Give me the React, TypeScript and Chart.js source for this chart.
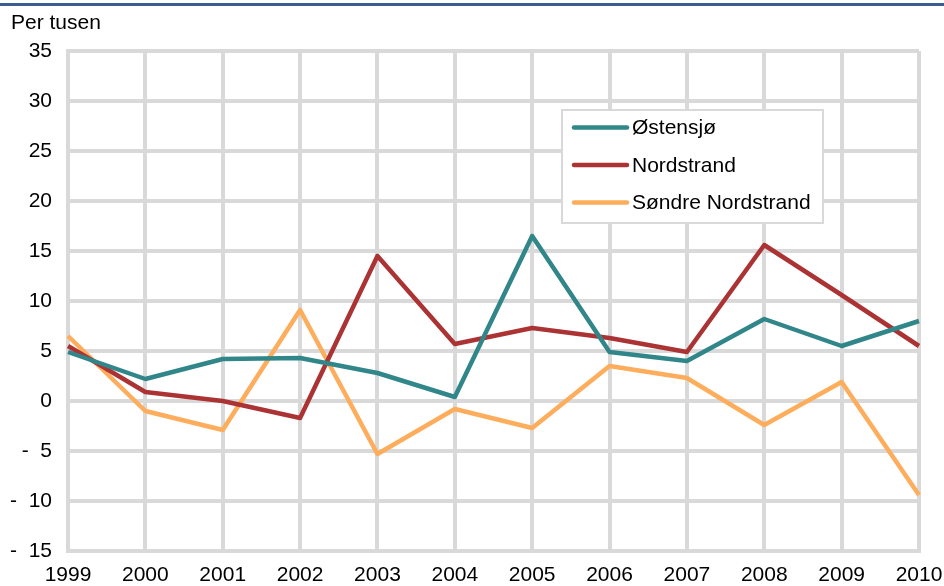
import React, { useEffect, useRef } from "react";
import { Chart, registerables } from "chart.js";

Chart.register(...registerables);

const years = ["1999", "2000", "2001", "2002", "2003", "2004", "2005", "2006", "2007", "2008", "2009", "2010"];
const ostensjo = [4.9, 2.2, 4.2, 4.3, 2.8, 0.4, 16.5, 4.9, 4.0, 8.2, 5.5, 8.0];
const nordstrand = [5.5, 0.9, 0.0, -1.7, 14.5, 5.7, 7.3, 6.3, 4.9, 15.6, 10.6, 5.5];
const sondreNordstrand = [6.5, -1.0, -2.9, 9.1, -5.3, -0.8, -2.7, 3.5, 2.3, -2.4, 1.9, -9.4];
const seriesNames = ["Østensjø", "Nordstrand", "Søndre Nordstrand"];
const seriesColors = ["#31868a", "#ab3333", "#fdad5c"];
const yAxisTitle = "Per tusen";
const yMin = -15;
const yMax = 35;
const yStep = 5;

const FONT = "'Liberation Sans', Arial, sans-serif";
const FS = 21;
const W = 944;
const H = 586;

const formatY = (v: number) => (v < 0 ? "-  " + Math.abs(v) : String(v));

const decorPlugin = {
  id: "decor",
  beforeDraw(chart: any) {
    const ctx = chart.ctx;
    ctx.save();
    ctx.fillStyle = "#3d5b8e";
    ctx.fillRect(0, 3, W, 3);
    ctx.fillStyle = "#000";
    ctx.font = `${FS}px ${FONT}`;
    ctx.textAlign = "left";
    ctx.textBaseline = "alphabetic";
    ctx.fillText(yAxisTitle, 11, 29);
    ctx.restore();
  },
  afterDraw(chart: any) {
    const ctx = chart.ctx;
    ctx.save();
    const bx = 562, by = 110, bw = 261, bh = 113;
    ctx.fillStyle = "#fff";
    ctx.fillRect(bx, by, bw, bh);
    ctx.strokeStyle = "#d9d9d9";
    ctx.lineWidth = 2;
    ctx.strokeRect(bx, by, bw, bh);
    const ys = [127.5, 165, 202.5];
    chart.data.datasets.forEach((ds: any, i: number) => {
      ctx.strokeStyle = ds.borderColor;
      ctx.lineWidth = 4.5;
      ctx.lineCap = "round";
      ctx.beginPath();
      ctx.moveTo(574, ys[i]);
      ctx.lineTo(627, ys[i]);
      ctx.stroke();
      ctx.fillStyle = "#000";
      ctx.font = `${FS}px ${FONT}`;
      ctx.textAlign = "left";
      ctx.textBaseline = "middle";
      ctx.fillText(ds.label, 632, ys[i] + 1);
    });
    ctx.restore();
  },
};

export default function App() {
  const ref = useRef<HTMLCanvasElement | null>(null);
  useEffect(() => {
    if (!ref.current) return;
    const data = [ostensjo, nordstrand, sondreNordstrand];
    const chart = new Chart(ref.current, {
      type: "line",
      data: {
        labels: years,
        datasets: data.map((d, i) => ({
          label: seriesNames[i],
          data: d,
          borderColor: seriesColors[i],
          backgroundColor: seriesColors[i],
          borderWidth: 4.5,
          pointRadius: 0,
          pointHoverRadius: 0,
          tension: 0,
          borderJoinStyle: "round" as const,
          borderCapStyle: "butt" as const,
        })),
      },
      options: {
        responsive: false,
        animation: false,
        events: [],
        layout: { padding: { top: 51, right: 25, left: 0, bottom: 0 } },
        plugins: {
          legend: { display: false },
          tooltip: { enabled: false },
          title: { display: false },
        },
        scales: {
          x: {
            type: "category",
            offset: false,
            afterFit: (s: any) => {
              s.height = 35;
              s.paddingLeft = 0;
              s.paddingRight = 0;
            },
            grid: { color: "#d9d9d9", lineWidth: 4, drawTicks: false },
            border: { display: true, color: "#d9d9d9", width: 4 },
            ticks: {
              color: "#000",
              font: { family: FONT, size: FS },
              padding: 12,
              maxRotation: 0,
              autoSkip: false,
            },
          },
          y: {
            min: yMin,
            max: yMax,
            afterFit: (s: any) => {
              s.width = 68;
              s.paddingTop = 0;
              s.paddingBottom = 0;
            },
            grid: { color: "#d9d9d9", lineWidth: 4, drawTicks: false },
            border: { display: true, color: "#d9d9d9", width: 4 },
            ticks: {
              stepSize: yStep,
              color: "#000",
              font: { family: FONT, size: FS },
              padding: 16,
              callback: (v: any) => formatY(Number(v)),
            },
          },
        },
      },
      plugins: [decorPlugin],
    });
    return () => chart.destroy();
  }, []);
  return (
    <div style={{ position: "fixed", left: 0, top: 0, width: W, height: H, background: "#fff" }}>
      <canvas ref={ref} width={W} height={H} style={{ width: W, height: H, display: "block" }} />
    </div>
  );
}
